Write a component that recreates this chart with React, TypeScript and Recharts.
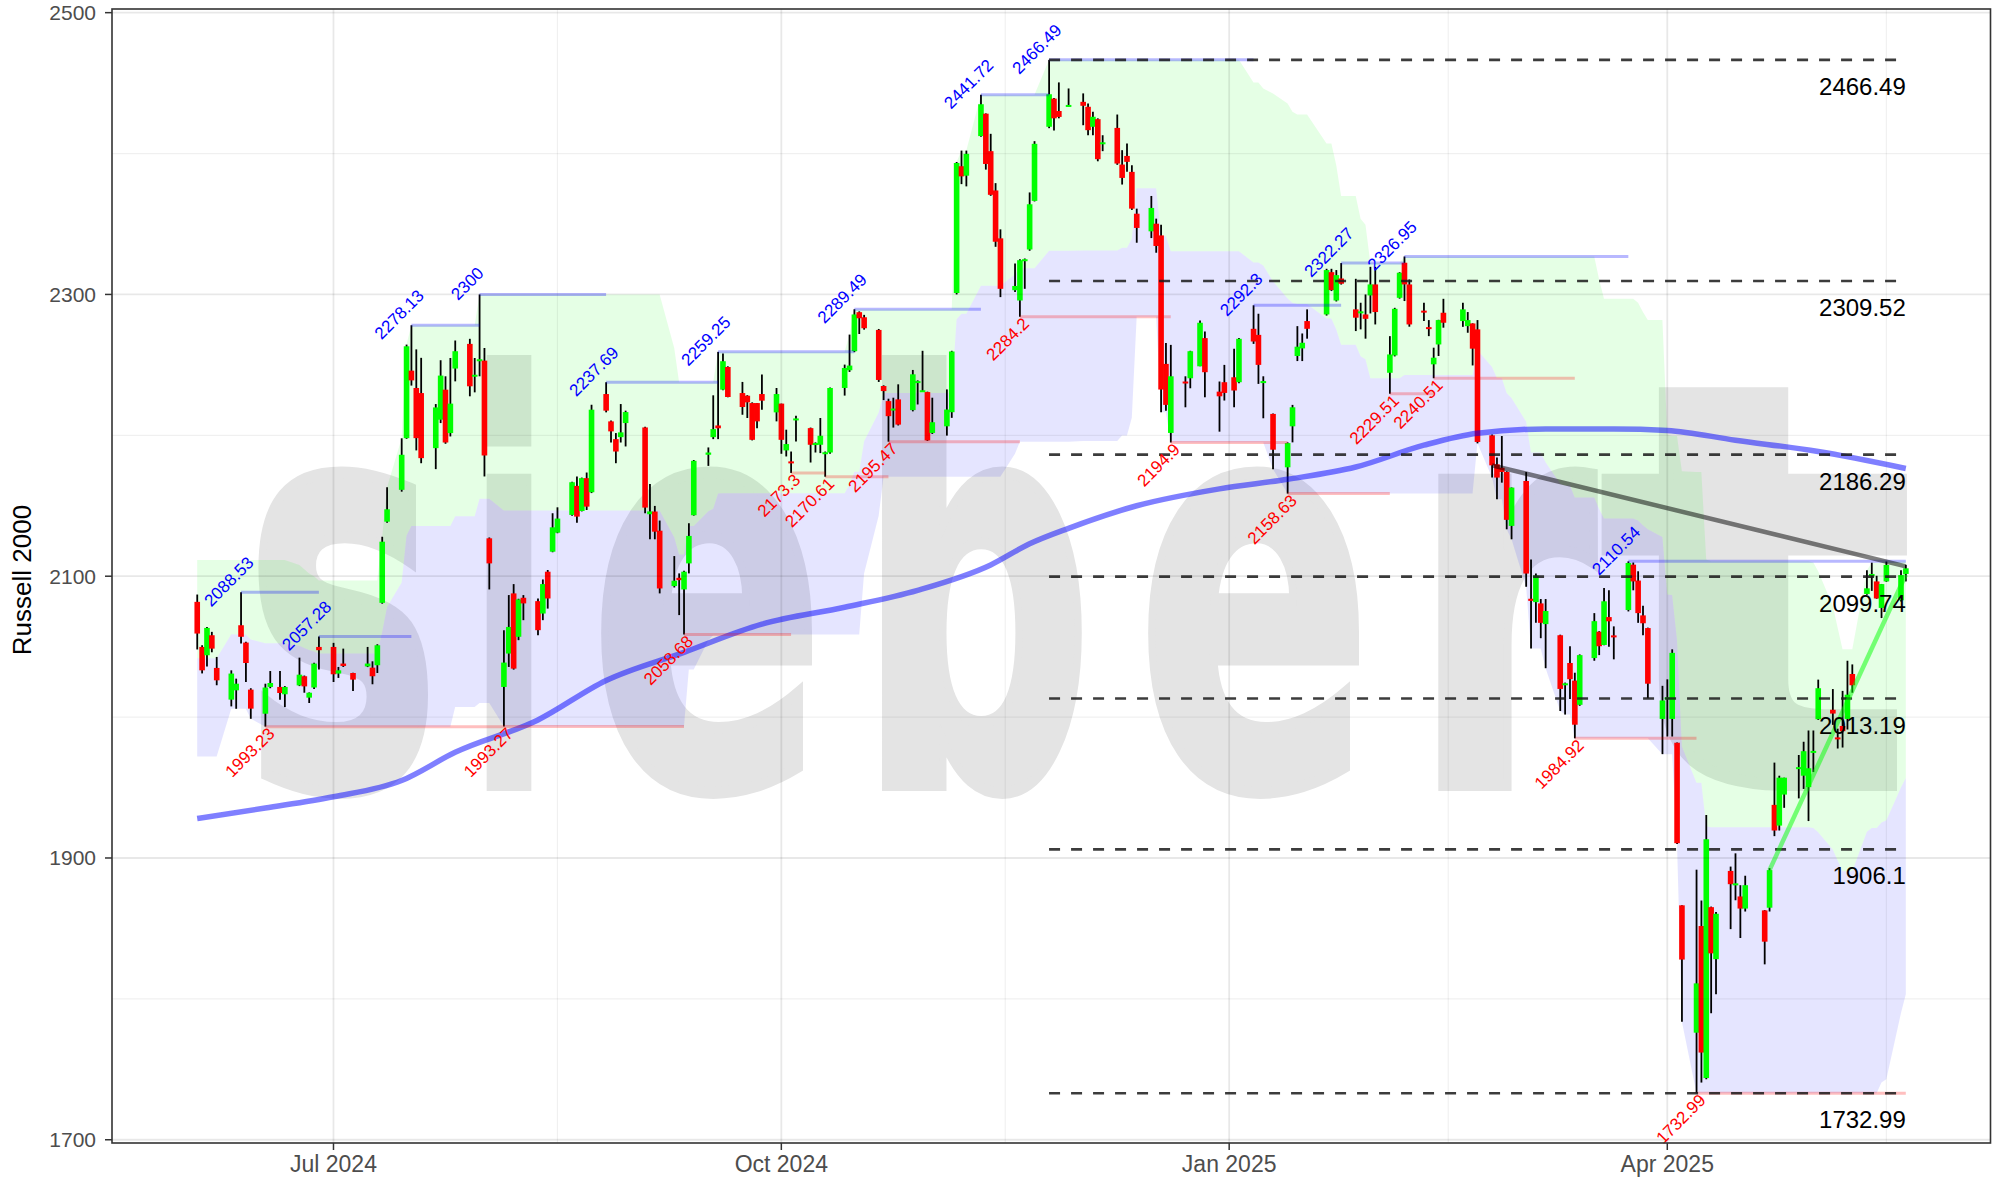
import React from "react";
import {
  ComposedChart,
  Bar,
  Line,
  Area,
  XAxis,
  YAxis,
  ReferenceLine,
  ReferenceDot,
} from "recharts";

const FONT = '"Liberation Sans", Arial, Helvetica, sans-serif';

// daily candles per month: [day, open, high, low, close]
const jun24 = [
  [3, 2081.8, 2087.0, 2048.0, 2059.3], [4, 2049.8, 2051.0, 2031.0, 2033.2],
  [5, 2043.9, 2064.0, 2036.0, 2063.3], [6, 2058.1, 2060.5, 2046.0, 2048.6],
  [7, 2034.9, 2042.7, 2022.6, 2026.1], [10, 2012.4, 2033.2, 2007.6, 2030.9],
  [11, 2019.0, 2027.3, 2005.9, 2023.7], [12, 2065.2, 2088.53, 2052.2, 2057.0],
  [13, 2052.9, 2053.5, 2024.9, 2038.4], [14, 2019.5, 2020.5, 1998.8, 2006.0],
  [17, 2002.4, 2023.7, 1993.23, 2021.0], [18, 2021.4, 2032.7, 2020.5, 2024.2],
  [20, 2021.4, 2032.7, 2012.4, 2017.1], [21, 2016.2, 2022.0, 2007.1, 2021.4],
  [24, 2022.5, 2042.2, 2022.0, 2030.1], [25, 2029.0, 2029.5, 2017.3, 2021.8],
  [26, 2013.8, 2017.5, 2010.0, 2017.3], [27, 2021.0, 2038.5, 2020.0, 2038.0],
  [28, 2049.8, 2057.28, 2033.7, 2047.5],
];
const jul24 = [
  [1, 2049.8, 2052.7, 2024.9, 2030.4], [2, 2030.9, 2035.6, 2027.8, 2033.2],
  [3, 2038.0, 2048.6, 2035.6, 2036.3], [5, 2031.3, 2031.5, 2018.5, 2026.6],
  [8, 2036.0, 2049.8, 2035.5, 2038.0], [9, 2035.1, 2039.6, 2023.3, 2029.0],
  [10, 2036.8, 2051.7, 2031.3, 2051.0], [11, 2081.1, 2128.0, 2080.5, 2124.5],
  [12, 2138.7, 2163.2, 2138.0, 2147.5], [15, 2161.3, 2197.9, 2160.0, 2186.2],
  [16, 2198.0, 2264.4, 2197.5, 2263.2], [17, 2245.9, 2278.13, 2235.3, 2239.0],
  [18, 2233.6, 2261.0, 2189.3, 2198.0], [19, 2230.0, 2255.0, 2180.2, 2183.8],
  [22, 2190.9, 2222.2, 2176.0, 2219.8], [23, 2211.1, 2253.3, 2208.7, 2242.4],
  [24, 2232.4, 2241.9, 2194.0, 2194.9], [25, 2201.6, 2254.9, 2199.2, 2222.5],
  [26, 2247.4, 2267.3, 2238.3, 2259.7], [29, 2264.9, 2268.5, 2227.7, 2234.8],
  [30, 2242.0, 2254.9, 2230.5, 2243.0], [31, 2253.0, 2300.0, 2241.9, 2254.0],
];
const aug24 = [
  [1, 2253.0, 2262.0, 2170.8, 2185.7], [2, 2126.9, 2127.5, 2090.6, 2109.1],
  [5, 2021.4, 2061.7, 1993.27, 2038.7], [6, 2045.1, 2086.6, 2035.6, 2064.0],
  [7, 2087.8, 2094.4, 2033.7, 2034.4], [8, 2057.0, 2084.0, 2054.6, 2083.5],
  [9, 2084.7, 2086.6, 2068.8, 2080.7], [12, 2082.3, 2084.2, 2058.1, 2061.7],
  [13, 2073.5, 2097.7, 2068.8, 2094.4], [14, 2103.2, 2104.4, 2077.0, 2084.2],
  [15, 2117.4, 2144.7, 2117.0, 2134.7], [16, 2130.9, 2148.9, 2130.5, 2140.9],
  [19, 2143.5, 2167.0, 2143.0, 2166.7], [20, 2164.1, 2170.8, 2138.0, 2142.3],
  [21, 2146.3, 2170.0, 2146.0, 2169.6], [22, 2169.6, 2173.6, 2147.0, 2149.4],
  [23, 2159.6, 2221.7, 2159.0, 2218.2], [26, 2229.3, 2237.69, 2216.3, 2217.5],
  [27, 2209.9, 2210.5, 2194.9, 2202.8], [28, 2197.3, 2201.6, 2180.2, 2188.5],
  [29, 2198.7, 2222.2, 2194.9, 2202.1], [30, 2208.7, 2217.5, 2192.1, 2216.5],
];
const sep24 = [
  [3, 2205.6, 2206.0, 2144.7, 2148.7], [4, 2144.0, 2165.5, 2126.2, 2146.0],
  [5, 2145.9, 2149.9, 2126.2, 2131.6], [6, 2132.3, 2139.5, 2087.8, 2091.3],
  [9, 2093.0, 2114.3, 2092.0, 2096.8], [10, 2098.9, 2102.0, 2072.4, 2097.2],
  [11, 2090.6, 2103.9, 2058.68, 2103.2], [12, 2109.1, 2137.6, 2102.0, 2128.6],
  [13, 2143.3, 2182.5, 2143.0, 2181.9], [16, 2186.2, 2191.4, 2178.3, 2187.8],
  [17, 2198.7, 2228.4, 2197.3, 2204.4], [18, 2207.0, 2259.25, 2197.3, 2205.0],
  [19, 2232.4, 2258.0, 2232.0, 2252.6], [20, 2248.5, 2249.0, 2227.0, 2227.2],
  [23, 2230.0, 2237.9, 2214.6, 2220.1], [24, 2228.1, 2228.5, 2212.3, 2223.4],
  [25, 2222.9, 2223.4, 2196.4, 2196.8], [26, 2222.9, 2223.0, 2205.1, 2209.9],
  [27, 2229.3, 2243.1, 2218.2, 2224.6], [30, 2216.3, 2233.6, 2209.9, 2229.3],
];
const oct24 = [
  [1, 2222.5, 2222.5, 2186.9, 2196.8], [2, 2189.3, 2204.0, 2185.0, 2193.8],
  [3, 2181.5, 2188.5, 2173.3, 2180.7], [4, 2211.0, 2213.9, 2195.6, 2212.0],
  [7, 2205.1, 2205.5, 2180.7, 2193.3], [8, 2193.5, 2195.0, 2187.8, 2194.5],
  [9, 2193.3, 2212.3, 2187.4, 2199.7], [10, 2187.0, 2188.5, 2170.61, 2188.0],
  [11, 2187.8, 2234.0, 2187.0, 2233.6], [14, 2233.6, 2250.2, 2228.2, 2247.8],
  [15, 2246.2, 2271.5, 2245.0, 2249.5], [16, 2259.7, 2289.49, 2259.0, 2285.8],
  [17, 2287.4, 2288.0, 2271.9, 2283.1], [18, 2283.8, 2285.5, 2275.0, 2276.0],
  [21, 2274.8, 2275.5, 2237.9, 2239.3], [22, 2235.0, 2235.5, 2225.0, 2231.4],
  [23, 2224.3, 2226.0, 2195.47, 2213.6], [24, 2218.0, 2226.7, 2205.5, 2219.0],
  [25, 2225.5, 2236.2, 2207.0, 2207.6], [28, 2217.9, 2246.4, 2217.0, 2243.3],
  [29, 2237.5, 2239.0, 2221.9, 2238.5], [30, 2231.5, 2260.0, 2231.0, 2232.0],
  [31, 2230.7, 2231.0, 2196.0, 2196.4],
];
const nov24 = [
  [1, 2201.7, 2226.7, 2201.0, 2209.3], [4, 2206.4, 2232.6, 2199.8, 2218.3],
  [5, 2216.4, 2260.0, 2212.4, 2259.5], [6, 2301.0, 2394.0, 2300.0, 2393.3],
  [7, 2391.0, 2402.1, 2378.3, 2383.8], [8, 2384.3, 2402.1, 2376.7, 2399.8],
  [11, 2412.4, 2441.72, 2412.0, 2435.0], [12, 2428.3, 2428.5, 2388.6, 2392.6],
  [13, 2401.7, 2414.0, 2370.0, 2370.7], [14, 2373.8, 2379.0, 2333.8, 2337.4],
  [15, 2339.8, 2346.2, 2298.1, 2304.0], [18, 2303.0, 2321.9, 2301.7, 2306.0],
  [19, 2295.7, 2325.0, 2284.2, 2324.3], [20, 2324.0, 2325.5, 2304.0, 2325.0],
  [21, 2331.9, 2372.4, 2331.0, 2364.0], [22, 2366.4, 2408.8, 2366.0, 2406.9],
  [25, 2419.0, 2466.49, 2418.0, 2442.1], [26, 2439.0, 2439.5, 2416.4, 2425.0],
  [27, 2430.2, 2450.5, 2425.0, 2426.0], [29, 2433.8, 2446.2, 2433.5, 2434.5],
];
const dec24 = [
  [2, 2436.7, 2442.7, 2420.1, 2433.9], [3, 2433.2, 2435.5, 2413.0, 2416.6],
  [4, 2419.0, 2429.6, 2413.0, 2426.1], [5, 2424.4, 2425.0, 2394.5, 2396.0],
  [6, 2407.5, 2413.0, 2401.7, 2408.0], [9, 2418.2, 2427.7, 2392.0, 2392.9],
  [10, 2392.2, 2402.4, 2378.0, 2382.7], [11, 2398.3, 2407.1, 2387.0, 2394.1],
  [12, 2387.0, 2391.7, 2360.0, 2360.9], [13, 2357.3, 2360.9, 2336.7, 2347.2],
  [16, 2344.8, 2369.9, 2340.0, 2361.4], [17, 2350.2, 2353.8, 2329.6, 2334.4],
  [18, 2341.9, 2349.5, 2216.3, 2232.5], [19, 2250.7, 2265.6, 2217.5, 2221.6],
  [20, 2201.7, 2264.2, 2194.9, 2241.9], [23, 2238.2, 2241.9, 2219.9, 2237.7],
  [24, 2240.5, 2260.0, 2233.4, 2259.7], [26, 2249.0, 2281.5, 2249.0, 2279.9],
  [27, 2269.0, 2273.7, 2227.0, 2244.8], [30, 2231.0, 2238.2, 2202.6, 2227.7],
  [31, 2237.7, 2250.0, 2224.7, 2230.1],
];
const jan25 = [
  [2, 2241.2, 2261.4, 2219.9, 2231.8], [3, 2237.7, 2269.0, 2237.0, 2268.5],
  [6, 2275.6, 2292.3, 2264.9, 2266.6], [7, 2271.3, 2286.3, 2236.5, 2250.0],
  [8, 2237.5, 2241.9, 2212.1, 2238.5], [10, 2215.2, 2215.5, 2176.0, 2189.8],
  [13, 2177.3, 2195.0, 2158.63, 2194.5], [14, 2206.4, 2221.6, 2195.0, 2219.9],
  [15, 2256.3, 2277.5, 2252.7, 2262.9], [16, 2261.7, 2272.3, 2252.7, 2265.7],
  [17, 2281.1, 2289.4, 2268.6, 2275.6], [21, 2285.8, 2318.2, 2285.0, 2317.3],
  [22, 2315.8, 2318.2, 2302.4, 2303.1], [23, 2295.7, 2317.3, 2295.0, 2313.7],
  [24, 2311.3, 2322.27, 2307.0, 2307.6], [27, 2289.4, 2311.1, 2274.0, 2283.5],
  [28, 2287.0, 2294.1, 2275.2, 2288.0], [29, 2285.8, 2300.0, 2268.6, 2282.7],
  [30, 2299.3, 2319.6, 2286.5, 2307.1], [31, 2307.1, 2319.6, 2278.7, 2287.5],
];
const feb25 = [
  [3, 2244.4, 2270.4, 2229.51, 2257.4], [4, 2256.7, 2290.5, 2256.0, 2289.8],
  [5, 2297.6, 2315.8, 2297.0, 2315.4], [6, 2322.5, 2326.95, 2295.3, 2307.1],
  [7, 2307.1, 2310.6, 2277.1, 2278.7], [10, 2288.5, 2294.1, 2281.1, 2287.5],
  [11, 2276.8, 2281.8, 2270.4, 2276.2], [12, 2250.4, 2262.2, 2240.51, 2255.1],
  [13, 2264.5, 2282.0, 2256.3, 2281.8], [14, 2287.0, 2296.9, 2276.4, 2279.9],
  [18, 2281.1, 2294.1, 2277.0, 2289.4], [19, 2277.5, 2287.5, 2272.8, 2281.8],
  [20, 2279.4, 2279.5, 2249.6, 2261.5], [21, 2275.2, 2281.8, 2194.3, 2195.3],
  [24, 2200.0, 2200.5, 2170.0, 2178.7], [25, 2179.4, 2184.2, 2154.6, 2170.0],
  [26, 2177.0, 2199.5, 2166.4, 2174.0], [27, 2174.0, 2174.5, 2133.3, 2140.0],
  [28, 2135.7, 2163.0, 2126.2, 2162.9],
];
const mar25 = [
  [3, 2167.6, 2173.9, 2092.5, 2101.9], [4, 2084.0, 2111.9, 2048.7, 2082.5],
  [5, 2081.6, 2101.9, 2066.9, 2100.4], [6, 2080.7, 2083.8, 2056.0, 2066.9],
  [7, 2066.0, 2083.8, 2034.7, 2075.3], [10, 2058.1, 2058.5, 2004.3, 2020.0],
  [11, 2023.0, 2024.5, 2001.8, 2024.0], [12, 2038.4, 2050.3, 2012.8, 2026.9],
  [13, 2025.9, 2031.5, 1984.92, 1994.6], [14, 2008.7, 2044.5, 2008.0, 2044.0],
  [17, 2041.9, 2073.8, 2040.0, 2068.1], [18, 2060.6, 2061.0, 2044.0, 2050.3],
  [19, 2051.2, 2091.6, 2051.0, 2082.2], [20, 2071.0, 2090.0, 2050.0, 2068.0],
  [21, 2058.0, 2064.4, 2041.0, 2057.0], [24, 2076.0, 2110.54, 2075.0, 2109.4],
  [25, 2108.2, 2109.7, 2090.0, 2096.3], [26, 2096.9, 2103.5, 2066.9, 2073.8],
  [27, 2072.2, 2079.1, 2058.1, 2066.6], [28, 2063.2, 2063.5, 2013.4, 2023.7],
  [31, 1998.7, 2022.2, 1973.7, 2011.8],
];
const apr25 = [
  [1, 2013.0, 2026.8, 1986.2, 2014.0], [2, 1998.7, 2048.1, 1986.2, 2045.6],
  [3, 1981.8, 1982.0, 1910.0, 1910.5], [4, 1866.4, 1866.5, 1783.8, 1827.9],
  [7, 1776.0, 1891.7, 1732.99, 1811.0], [8, 1851.7, 1869.8, 1740.6, 1761.9],
  [9, 1743.8, 1930.5, 1743.0, 1913.3], [10, 1865.1, 1865.5, 1789.8, 1832.3],
  [11, 1828.2, 1861.7, 1803.2, 1860.4], [14, 1890.8, 1893.9, 1849.5, 1881.4],
  [15, 1881.0, 1903.3, 1870.0, 1882.0], [16, 1872.7, 1880.7, 1843.2, 1864.1],
  [17, 1864.1, 1887.4, 1862.0, 1880.7], [21, 1862.8, 1863.0, 1824.5, 1840.6],
  [22, 1864.7, 1892.8, 1862.0, 1891.4], [23, 1937.7, 1967.7, 1915.5, 1919.5],
  [24, 1923.0, 1958.4, 1919.5, 1957.0], [25, 1945.0, 1957.0, 1935.6, 1957.0],
  [28, 1963.5, 1973.1, 1942.3, 1964.5], [29, 1958.4, 1982.5, 1949.0, 1975.8],
  [30, 1950.3, 1990.5, 1926.2, 1963.7],
];
const may25 = [
  [1, 1975.0, 1990.5, 1961.0, 1976.0], [2, 1998.5, 2026.6, 1998.0, 2020.5],
  [5, 2005.2, 2019.9, 1994.5, 2002.5], [6, 1985.6, 1991.8, 1977.7, 1984.6],
  [7, 1993.7, 2018.6, 1978.4, 1990.0], [8, 1998.7, 2040.0, 1991.2, 2015.9],
  [9, 2030.6, 2037.4, 2017.3, 2022.6], [12, 2087.4, 2104.3, 2086.9, 2091.4],
  [13, 2100.0, 2109.6, 2089.6, 2101.6], [14, 2096.3, 2100.3, 2084.0, 2084.2],
  [15, 2077.5, 2094.5, 2070.3, 2094.4], [16, 2096.3, 2110.4, 2096.0, 2108.0],
  [19, 2082.9, 2104.3, 2082.0, 2100.8], [20, 2101.6, 2108.0, 2096.3, 2105.6],
];

// channel values read for the first days, whose window starts before the chart
const headUpper = [
  2111.5, 2111.5, 2111.5, 2111.5, 2111.5, 2111.5, 2111.5, 2111.5, 2111.5,
  2111.5, 2111.5, 2111.5, 2111.5, 2111.5, 2108, 2105, 2102, 2100, 2097,
  2097, 2097, 2097, 2097, 2097, 2097, 2097,
];
const headLower = [
  1972, 1972, 1972, 1972, 1972, 2006, 2006, 2006, 2006, 2006, 2006, 2006,
  2006, 2006, 2006, 2006, 2006, 2006, 2006, 2006, 2006, 2006, 2006, 2006,
  2006, 2006,
];
const CHANNEL_DAYS = 27;

// 200-day moving average
const maDates = [
  "2024-06-03", "2024-06-17", "2024-07-01", "2024-07-15", "2024-07-26",
  "2024-08-12", "2024-08-26", "2024-09-11", "2024-09-27", "2024-10-14",
  "2024-10-29", "2024-11-13", "2024-11-21", "2024-11-29", "2024-12-13",
  "2024-12-30", "2025-01-13", "2025-01-27", "2025-02-10", "2025-02-21",
  "2025-03-07", "2025-03-21", "2025-04-01", "2025-04-15", "2025-05-02",
  "2025-05-20",
];
const maValues = [
  1928, 1935.5, 1943.5, 1955, 1975, 1998, 2026, 2046, 2066, 2078, 2090, 2108,
  2123, 2134, 2150, 2162, 2168.8, 2177.5, 2193, 2201.5, 2204.5, 2204.5,
  2203.5, 2196.5, 2188.5, 2176.5,
];

const peakDates = [
  "2024-06-12", "2024-06-28", "2024-07-17", "2024-07-31", "2024-08-26",
  "2024-09-18", "2024-10-16", "2024-11-11", "2024-11-25", "2025-01-06",
  "2025-01-24", "2025-02-06", "2025-03-24",
];
const peakValues = [
  2088.53, 2057.28, 2278.13, 2300, 2237.69, 2259.25, 2289.49, 2441.72,
  2466.49, 2292.3, 2322.27, 2326.95, 2110.54,
];
const troughDates = [
  "2024-06-17", "2024-08-05", "2024-09-11", "2024-10-03", "2024-10-10",
  "2024-10-23", "2024-11-19", "2024-12-20", "2025-01-13", "2025-02-03",
  "2025-02-12", "2025-03-13", "2025-04-07",
];
const troughValues = [
  1993.23, 1993.27, 2058.68, 2173.3, 2170.61, 2195.47, 2284.2, 2194.9,
  2158.63, 2229.51, 2240.51, 1984.92, 1732.99,
];

const fibLevels = [2466.49, 2309.52, 2186.29, 2099.74, 2013.19, 1906.1, 1732.99];
const fibStart = "2024-11-25";
const lastDate = "2025-05-20";

const grayTrendDates = ["2025-02-24", "2025-05-20"];
const grayTrendValues = [2178.7, 2107];
const greenTrendDates = ["2025-04-22", "2025-05-20"];
const greenTrendValues = [1891.4, 2101];

const yTicks = [1700, 1900, 2100, 2300, 2500];
const yMinor = [1800, 2000, 2200, 2400];
const xTicks = ["2024-07-01", "2024-10-01", "2025-01-01", "2025-04-01"];
const xTickLabels = ["Jul 2024", "Oct 2024", "Jan 2025", "Apr 2025"];
const xMinor = ["2024-08-16", "2024-11-16", "2025-02-15", "2025-05-16"];

// ---- build table ----
const months: [string, number[][]][] = [
  ["2024-06", jun24], ["2024-07", jul24], ["2024-08", aug24], ["2024-09", sep24],
  ["2024-10", oct24], ["2024-11", nov24], ["2024-12", dec24], ["2025-01", jan25],
  ["2025-02", feb25], ["2025-03", mar25], ["2025-04", apr25], ["2025-05", may25],
];
const candles = months.flatMap(([ym, rows]) =>
  rows.map(([d, o, h, l, c]) => ({
    date: `${ym}-${String(d).padStart(2, "0")}`,
    o, h, l, c,
  }))
);

const upper = candles.map((_, i) => {
  let m = i < headUpper.length ? headUpper[i] : -Infinity;
  for (let j = Math.max(0, i - CHANNEL_DAYS + 1); j <= i; j++) m = Math.max(m, candles[j].h);
  return m;
});
const lower = candles.map((_, i) => {
  let m = i < headLower.length ? headLower[i] : Infinity;
  for (let j = Math.max(0, i - CHANNEL_DAYS + 1); j <= i; j++) m = Math.min(m, candles[j].l);
  return m;
});

const DAY = 86400000;
const calendar: string[] = [];
for (let t = Date.UTC(2024, 4, 17); t <= Date.UTC(2025, 5, 6); t += DAY) {
  calendar.push(new Date(t).toISOString().slice(0, 10));
}

const candleIndex = new Map(candles.map((c, i) => [c.date, i]));
const maMap = new Map(maDates.map((d, i) => [d, maValues[i]]));
const grayMap = new Map(grayTrendDates.map((d, i) => [d, grayTrendValues[i]]));
const greenMap = new Map(greenTrendDates.map((d, i) => [d, greenTrendValues[i]]));

const data = calendar.map((date) => {
  const row: any = { date };
  const i = candleIndex.get(date);
  if (i !== undefined) {
    const c = candles[i];
    const mid = (upper[i] + lower[i]) / 2;
    row.o = c.o;
    row.h = c.h;
    row.l = c.l;
    row.c = c.c;
    row.hl = [c.l, c.h];
    row.greenBand = [mid, upper[i]];
    row.blueBand = [lower[i], mid];
  }
  if (maMap.has(date)) row.ma = maMap.get(date);
  if (grayMap.has(date)) row.grayTrend = grayMap.get(date);
  if (greenMap.has(date)) row.greenTrend = greenMap.get(date);
  return row;
});

// ---- shapes ----
const Candle = (props: any) => {
  const { x, y, width, height, payload } = props;
  if (!payload || payload.o == null || !Number.isFinite(y) || !Number.isFinite(height)) return <g />;
  const { o, h, l, c } = payload;
  const top = Math.min(y, y + height);
  const span = Math.abs(height);
  const k = h > l ? span / (h - l) : 0;
  const cx = x + width / 2;
  const yO = top + (h - o) * k;
  const yC = top + (h - c) * k;
  const bodyH = Math.max(Math.abs(yC - yO), 2);
  return (
    <g>
      <line x1={cx} x2={cx} y1={top} y2={top + span} stroke="#000" strokeWidth={1.8} />
      <rect
        x={cx - 2.8}
        y={Math.min(yO, yC)}
        width={5.6}
        height={bodyH}
        fill={c >= o ? "#00ff00" : "#ff0000"}
      />
    </g>
  );
};

const peakShape = (text: string) => (p: any) => (
  <g transform={`translate(${p.cx} ${p.cy}) rotate(-45)`}>
    <text x={-1} y={-10.5} textAnchor="middle" fontSize={17} fill="#0000ff" fontFamily={FONT}>
      {text}
    </text>
  </g>
);
const troughShape = (text: string) => (p: any) => (
  <g transform={`translate(${p.cx} ${p.cy}) rotate(-45)`}>
    <text x={1.5} y={13} textAnchor="end" fontSize={17} fill="#ff0000" fontFamily={FONT}>
      {text}
    </text>
  </g>
);
const fibShape = (text: string) => (p: any) => (
  <text x={p.cx} y={p.cy + 35} textAnchor="end" fontSize={24} fill="#000" fontFamily={FONT}>
    {text}
  </text>
);

const W = 1992;
const H = 1181;
const PLOT = { left: 112, top: 9, right: 1, bottom: 38 };

const Watermark = () => {
  const letters: [string, number, number][] = [
    ["s", 245, 440], ["i", 470, 548], ["e", 590, 825], ["b", 858, 1093],
    ["e", 1137, 1372], ["r", 1411, 1595], ["t", 1600, 1915],
  ];
  return (
    <svg width={W} height={H} style={{ position: "absolute", left: 0, top: 0 }}>
      {letters.map(([ch, x0, x1], i) => (
        <text
          key={i}
          x={x0}
          y={785}
          fontSize={558}
          fontWeight="bold"
          fontFamily='"DejaVu Sans", sans-serif'
          textLength={x1 - x0}
          lengthAdjust="spacingAndGlyphs"
          fill="#e4e4e4"
          stroke="#e4e4e4"
          strokeWidth={12}
        >
          {ch}
        </text>
      ))}
    </svg>
  );
};

export default function App() {
  const plotW = W - PLOT.left - PLOT.right;
  const plotH = H - PLOT.top - PLOT.bottom;
  const titleY = PLOT.top + plotH / 2 + 4;
  return (
    <div style={{ position: "absolute", left: 0, top: 0, width: W, height: H, background: "#fff" }}>
      <Watermark />
      <div style={{ position: "absolute", left: 0, top: 0 }}>
        <ComposedChart
          width={W}
          height={H}
          data={data}
          margin={{ top: PLOT.top, right: PLOT.right, bottom: 0, left: 0 }}
        >
          <XAxis
            dataKey="date"
            type="category"
            allowDuplicatedCategory={false}
            ticks={xTicks}
            interval={0}
            tickFormatter={(d: string) => xTickLabels[xTicks.indexOf(d)] ?? ""}
            height={PLOT.bottom}
            axisLine={false}
            tickSize={7}
            tickMargin={6}
            tickLine={{ stroke: "#333", strokeWidth: 1.5 }}
            tick={{ fill: "#4d4d4d", fontSize: 23, fontFamily: FONT }}
          />
          <YAxis
            type="number"
            domain={[1697.7, 2502.6]}
            allowDataOverflow
            ticks={yTicks}
            width={PLOT.left}
            axisLine={false}
            tickSize={7}
            tickMargin={9}
            tickLine={{ stroke: "#333", strokeWidth: 1.5 }}
            tick={{ fill: "#4d4d4d", fontSize: 21, fontFamily: FONT }}
          />

          {yTicks.map((v) => (
            <ReferenceLine key={`gy${v}`} y={v} stroke="#000" strokeOpacity={0.09} strokeWidth={1.8} />
          ))}
          {yMinor.map((v) => (
            <ReferenceLine key={`my${v}`} y={v} stroke="#000" strokeOpacity={0.06} strokeWidth={1.2} />
          ))}
          {xTicks.map((d) => (
            <ReferenceLine key={`gx${d}`} x={d} stroke="#000" strokeOpacity={0.09} strokeWidth={1.8} />
          ))}
          {xMinor.map((d) => (
            <ReferenceLine key={`mx${d}`} x={d} stroke="#000" strokeOpacity={0.06} strokeWidth={1.2} />
          ))}

          <Area
            dataKey="greenBand"
            type="linear"
            connectNulls
            stroke="none"
            fill="#00ff00"
            fillOpacity={0.1}
            isAnimationActive={false}
          />
          <Area
            dataKey="blueBand"
            type="linear"
            connectNulls
            stroke="none"
            fill="#0000ff"
            fillOpacity={0.1}
            isAnimationActive={false}
          />

          <Line
            dataKey="ma"
            type="monotone"
            connectNulls
            stroke="#0000ff"
            strokeOpacity={0.5}
            strokeWidth={5.5}
            dot={false}
            activeDot={false}
            isAnimationActive={false}
          />

          {peakDates.map((d, i) => (
            <ReferenceLine
              key={`pl${d}`}
              segment={[
                { x: d, y: peakValues[i] },
                { x: peakDates[i + 1] ?? lastDate, y: peakValues[i] },
              ]}
              stroke="#0000ff"
              strokeOpacity={0.28}
              strokeWidth={3}
            />
          ))}
          {troughDates.map((d, i) => (
            <ReferenceLine
              key={`tl${d}`}
              segment={[
                { x: d, y: troughValues[i] },
                { x: troughDates[i + 1] ?? lastDate, y: troughValues[i] },
              ]}
              stroke="#ff0000"
              strokeOpacity={0.25}
              strokeWidth={3}
            />
          ))}

          <Bar dataKey="hl" shape={<Candle />} isAnimationActive={false} />

          {fibLevels.map((v) => (
            <ReferenceLine
              key={`fib${v}`}
              segment={[
                { x: fibStart, y: v },
                { x: lastDate, y: v },
              ]}
              stroke="#1a1a1a"
              strokeOpacity={0.85}
              strokeWidth={2.6}
              strokeDasharray="11 11"
            />
          ))}

          <Line
            dataKey="grayTrend"
            type="linear"
            connectNulls
            stroke="#000"
            strokeOpacity={0.5}
            strokeWidth={4.5}
            dot={false}
            activeDot={false}
            isAnimationActive={false}
          />
          <Line
            dataKey="greenTrend"
            type="linear"
            connectNulls
            stroke="#00ff00"
            strokeOpacity={0.5}
            strokeWidth={4.5}
            dot={false}
            activeDot={false}
            isAnimationActive={false}
          />

          {peakDates.map((d, i) => (
            <ReferenceDot key={`pt${d}`} x={d} y={peakValues[i]} r={0} ifOverflow="visible" shape={peakShape(String(peakValues[i]))} />
          ))}
          {troughDates.map((d, i) => (
            <ReferenceDot key={`tt${d}`} x={d} y={troughValues[i]} r={0} ifOverflow="visible" shape={troughShape(String(troughValues[i]))} />
          ))}
          {fibLevels.map((v) => (
            <ReferenceDot key={`ft${v}`} x={lastDate} y={v} r={0} ifOverflow="visible" shape={fibShape(String(v))} />
          ))}
        </ComposedChart>
      </div>
      <svg width={W} height={H} style={{ position: "absolute", left: 0, top: 0, pointerEvents: "none" }}>
        <rect
          x={PLOT.left}
          y={PLOT.top}
          width={plotW - 0.5}
          height={plotH}
          fill="none"
          stroke="#333"
          strokeWidth={1.6}
        />
        <text
          x={31}
          y={titleY}
          transform={`rotate(-90 31 ${titleY})`}
          textAnchor="middle"
          fontSize={26}
          fill="#000"
          fontFamily={FONT}
        >
          Russell 2000
        </text>
      </svg>
    </div>
  );
}
